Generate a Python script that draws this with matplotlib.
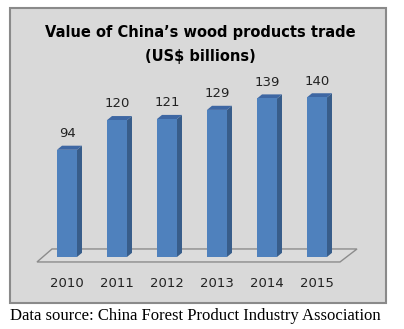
import matplotlib.pyplot as plt
from matplotlib.patches import Polygon, Rectangle

years = ['2010', '2011', '2012', '2013', '2014', '2015']
values = [94, 120, 121, 129, 139, 140]

front = '#4f81bd'
side = '#385d8a'
top = '#3e67a3'

fig = plt.figure(figsize=(4.04, 3.29), dpi=100)
fig.patch.set_facecolor('white')

# grey chart box
fig.patches.append(Rectangle((10 / 404, 26 / 329), 376 / 404, 295 / 329,
                             transform=fig.transFigure, facecolor='#d9d9d9',
                             edgecolor='#8a8a8a', linewidth=1.5, zorder=0))

ax = fig.add_axes([0, 0, 1, 1])
ax.set_zorder(1)
ax.set_xlim(-1.34, 6.74)
ax.set_ylim(-63.2, 225.4)
ax.axis('off')
ax.patch.set_alpha(0)

w = 0.4      # bar width
dx = 0.1     # depth offset in x
dy = 3.6     # depth offset in y
x = list(range(len(years)))

# floor
ax.add_patch(Polygon([(-0.6, -4.4), (-0.3, 7.0), (5.8, 7.0), (5.46, -4.4)],
                     closed=True, facecolor='#dcdcdc', edgecolor='#8c8c8c',
                     linewidth=1.0, zorder=1))

bars = ax.bar(x, values, width=w, color=front, zorder=3)
for b in bars:
    x0 = b.get_x()
    x1 = x0 + b.get_width()
    h = b.get_height()
    ax.add_patch(Polygon([(x1, 0), (x1 + dx, dy), (x1 + dx, h + dy), (x1, h)],
                         closed=True, facecolor=side, edgecolor='none', zorder=2))
    ax.add_patch(Polygon([(x0, h), (x0 + dx, h + dy), (x1 + dx, h + dy), (x1, h)],
                         closed=True, facecolor=top, edgecolor='none', zorder=2))
    ax.annotate(f'{h:.0f}', (x0 + w / 2, h), xytext=(0, 7),
                textcoords='offset points', ha='center', va='bottom',
                fontsize=9.5, color='#222222')

for xi, yr in zip(x, years):
    ax.text(xi, -23, yr, ha='center', va='center', fontsize=9.5, color='#222222')

fig.text(200 / 404, 1 - 33 / 329, 'Value of China\u2019s wood products trade',
         ha='center', va='center', fontsize=10.5, fontweight='bold')
fig.text(200 / 404, 1 - 56 / 329, '(US$ billions)',
         ha='center', va='center', fontsize=10.5, fontweight='bold')

fig.text(10 / 404, 1 - 316 / 329,
         'Data source: China Forest Product Industry Association',
         ha='left', va='center', fontsize=12, family='Liberation Serif')

fig.savefig('out.png', dpi=100)
